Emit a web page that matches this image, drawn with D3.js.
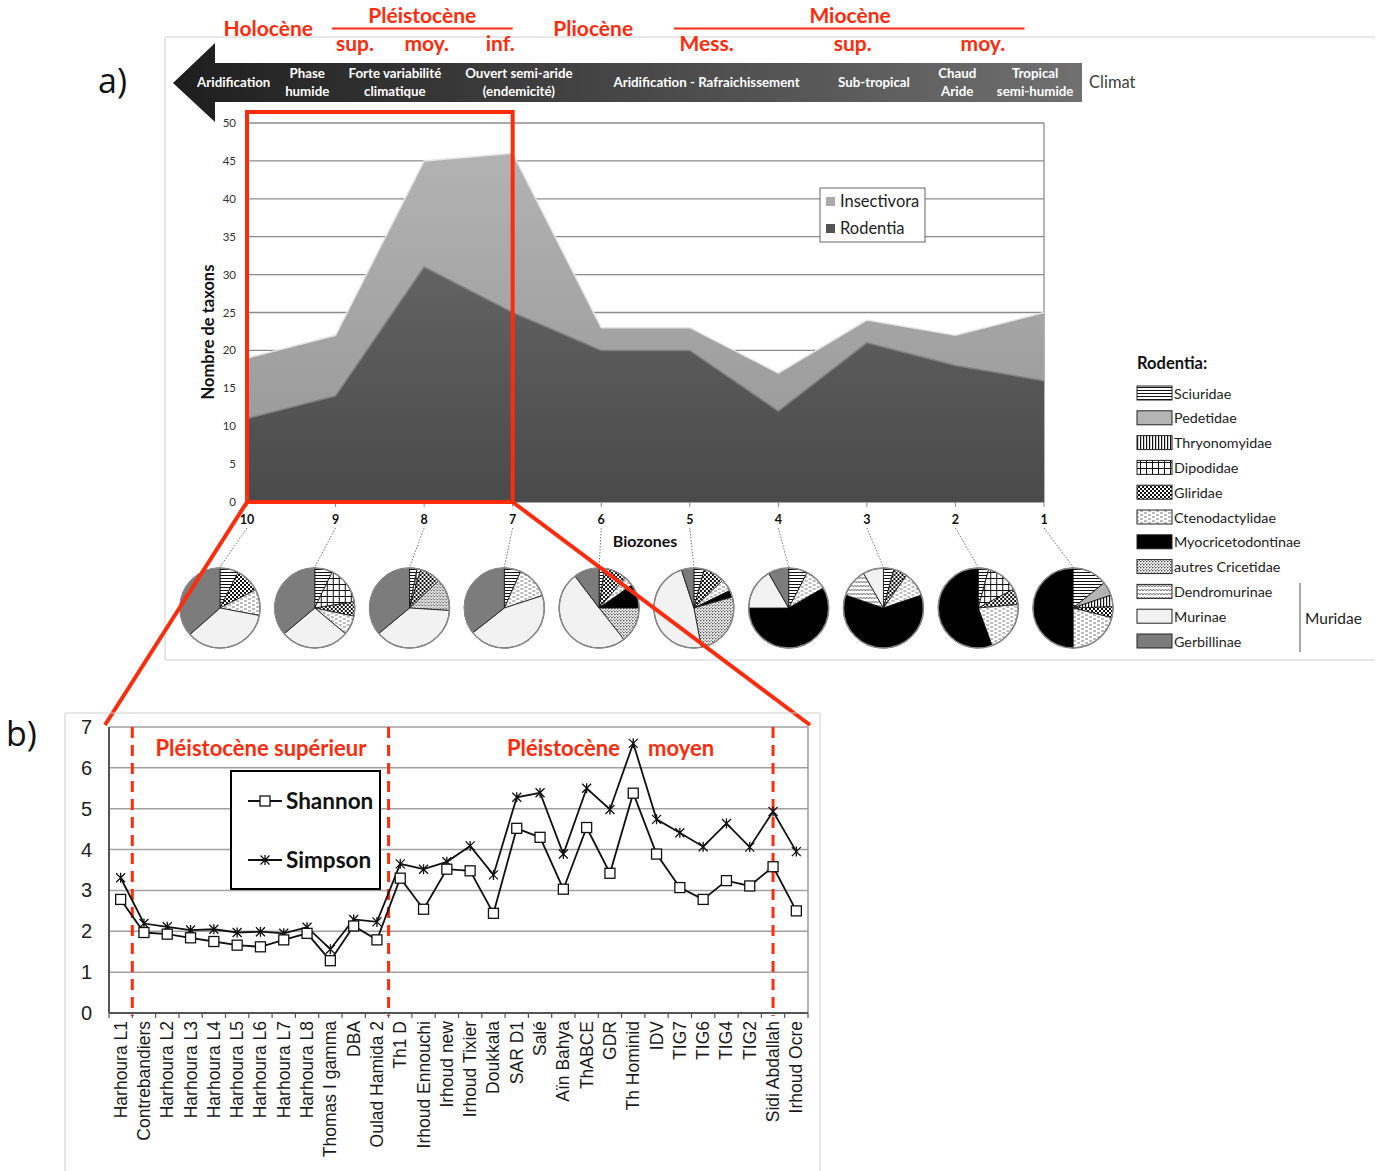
<!DOCTYPE html>
<html>
<head>
<meta charset="utf-8">
<title>Biozones - diversité</title>
<script src="https://d3js.org/d3.v7.min.js"></script>
<style>
  body { margin: 0; background: #fff; }
  text { font-family: Lato, "Open Sans", sans-serif; }
  .arial { font-family: "Liberation Sans", Arial, sans-serif; }
</style>
</head>
<body>
<div id="chart"></div>
<script>
// ---- données panneau a) ----
var biozones = [10, 9, 8, 7, 6, 5, 4, 3, 2, 1];
var rodentia = [11, 14, 31, 25, 20, 20, 12, 21, 18, 16];
var insectivora = [8, 8, 14, 21, 3, 3, 5, 3, 4, 9];
var yTicksA = [0, 5, 10, 15, 20, 25, 30, 35, 40, 45, 50];

var families = ["Sciuridae", "Pedetidae", "Thryonomyidae", "Dipodidae", "Gliridae",
  "Ctenodactylidae", "Myocricetodontinae", "autres Cricetidae", "Dendromurinae",
  "Murinae", "Gerbillinae"];
// parts (%) par biozone, dans l'ordre des familles
var pieShares = [
  [7.5, 0, 0, 0, 10, 10.5, 0, 0, 0, 35.5, 36.5],
  [7.2, 0, 0, 15.3, 5.8, 7.8, 0, 0, 0, 27.8, 36.1],
  [3, 0, 0, 1.5, 8.5, 0, 0, 13, 0, 38, 36],
  [6.7, 0, 0, 0, 0, 13.3, 0, 0, 0, 44.4, 35.6],
  [2.2, 0, 0, 0, 9.2, 3.9, 9.7, 14.4, 0, 50.3, 10.3],
  [4.2, 0, 0, 0, 8.6, 5, 2.8, 26.4, 0, 48, 5],
  [7.7, 0, 0, 0, 0, 9, 58.3, 0, 0, 16.7, 8.3],
  [4.2, 0, 0, 0, 5.6, 10, 60.5, 0, 11.4, 8.3, 0],
  [4.2, 0, 0, 13, 6.4, 20.8, 55.6, 0, 0, 0, 0],
  [14.2, 5.6, 4.7, 0, 4.4, 21.1, 50, 0, 0, 0, 0]
];

var climateLabels = [["Aridification"], ["Phase", "humide"], ["Forte variabilité", "climatique"],
  ["Ouvert semi-aride", "(endemicité)"], ["Aridification - Rafraichissement"], ["Sub-tropical"],
  ["Chaud", "Aride"], ["Tropical", "semi-humide"]];
var climateAt = [10.15, 9.32, 8.33, 6.93, 4.81, 2.92, 1.98, 1.10];

var epochLabels = ["Holocène", "Pléistocène", "Pliocène", "Miocène"];
var epochAt = [9.76, 8.02, 6.09, 3.19];
var epochSpans = [[9.04, 7.0], [5.18, 1.22]];
var subEpochLabels = ["sup.", "moy.", "inf.", "Mess.", "sup.", "moy."];
var subEpochAt = [8.78, 7.97, 7.14, 4.81, 3.16, 1.69];

// ---- données panneau b) ----
var sites = ["Harhoura L1", "Contrebandiers", "Harhoura L2", "Harhoura L3", "Harhoura L4",
  "Harhoura L5", "Harhoura L6", "Harhoura L7", "Harhoura L8", "Thomas I gamma", "DBA",
  "Oulad Hamida 2", "Th1 D", "Irhoud Ennouchi", "Irhoud new", "Irhoud Tixier", "Doukkala",
  "SAR D1", "Salé", "Aïn Bahya", "ThABCE", "GDR", "Th Hominid", "IDV", "TIG7", "TIG6",
  "TIG4", "TIG2", "Sidi Abdallah", "Irhoud Ocre"];
var shannon = [2.78, 1.97, 1.93, 1.84, 1.75, 1.66, 1.62, 1.79, 1.95, 1.28, 2.13, 1.79,
  3.30, 2.54, 3.52, 3.48, 2.44, 4.52, 4.30, 3.03, 4.54, 3.42, 5.38, 3.89, 3.07, 2.78,
  3.24, 3.11, 3.58, 2.50];
var simpson = [3.31, 2.19, 2.11, 2.03, 2.05, 1.97, 1.99, 1.95, 2.10, 1.56, 2.29, 2.23,
  3.65, 3.52, 3.70, 4.09, 3.38, 5.28, 5.39, 3.89, 5.50, 4.98, 6.60, 4.74, 4.41, 4.07,
  4.64, 4.06, 4.93, 3.95];
var yTicksB = [0, 1, 2, 3, 4, 5, 6, 7];

var RED = "#fc2c0c";

var svg = d3.select("#chart").append("svg")
  .attr("width", 1386).attr("height", 1171);

// ---- motifs ----
var defs = svg.append("defs");
function pat(id, w, h, draw) {
  var p = defs.append("pattern").attr("id", id).attr("patternUnits", "userSpaceOnUse")
    .attr("width", w).attr("height", h);
  p.append("rect").attr("width", w).attr("height", h).attr("fill", "#fff");
  draw(p);
}
pat("hl", 4, 3, function(p) { p.append("rect").attr("y", 0).attr("width", 4).attr("height", 1).attr("fill", "#111"); });
pat("vl", 3, 4, function(p) { p.append("rect").attr("x", 0).attr("width", 1.2).attr("height", 4).attr("fill", "#111"); });
pat("grid", 6, 6, function(p) {
  p.append("rect").attr("width", 6).attr("height", 1).attr("fill", "#111");
  p.append("rect").attr("width", 1).attr("height", 6).attr("fill", "#111");
});
pat("chk", 4, 4, function(p) {
  p.append("rect").attr("width", 2).attr("height", 2).attr("fill", "#111");
  p.append("rect").attr("x", 2).attr("y", 2).attr("width", 2).attr("height", 2).attr("fill", "#111");
});
pat("dash", 8, 4, function(p) {
  p.append("rect").attr("x", 0).attr("y", 0.5).attr("width", 3).attr("height", 1).attr("fill", "#777");
  p.append("rect").attr("x", 4).attr("y", 2.5).attr("width", 3).attr("height", 1).attr("fill", "#777");
});
pat("dots", 3, 3, function(p) {
  p.append("circle").attr("cx", 0.8).attr("cy", 0.8).attr("r", 0.8).attr("fill", "#222");
  p.append("circle").attr("cx", 2.3).attr("cy", 2.3).attr("r", 0.6).attr("fill", "#444");
});
pat("wave", 6, 4, function(p) {
  p.append("path").attr("d", "M0,3 L1.5,1 L3,3 L4.5,1 L6,3").attr("fill", "none")
    .attr("stroke", "#555").attr("stroke-width", 0.8);
});
var familyFills = ["url(#hl)", "#b4b4b4", "url(#vl)", "url(#grid)", "url(#chk)", "url(#dash)",
  "#000", "url(#dots)", "url(#wave)", "#f2f2f2", "#7c7c7c"];

var gIns = defs.append("linearGradient").attr("id", "gIns").attr("gradientUnits", "userSpaceOnUse")
  .attr("x1", 0).attr("y1", 123).attr("x2", 0).attr("y2", 502);
gIns.append("stop").attr("offset", 0).attr("stop-color", "#b5b5b5");
gIns.append("stop").attr("offset", 1).attr("stop-color", "#959595");
var gRod = defs.append("linearGradient").attr("id", "gRod").attr("gradientUnits", "userSpaceOnUse")
  .attr("x1", 0).attr("y1", 250).attr("x2", 0).attr("y2", 502);
gRod.append("stop").attr("offset", 0).attr("stop-color", "#646464");
gRod.append("stop").attr("offset", 1).attr("stop-color", "#4a4a4a");
var gBan = defs.append("linearGradient").attr("id", "gBan").attr("gradientUnits", "userSpaceOnUse")
  .attr("x1", 173).attr("y1", 0).attr("x2", 1082).attr("y2", 0);
gBan.append("stop").attr("offset", 0).attr("stop-color", "#1e1e1e");
gBan.append("stop").attr("offset", 1).attr("stop-color", "#707070");

// ================= panneau a) =================
var xA = d3.scaleLinear().domain([10, 1]).range([247, 1044]);
var yA = d3.scaleLinear().domain([0, 50]).range([502, 123]);

// cadre du panneau
svg.append("path").attr("d", "M1375,37 H165 V660 H1375").attr("fill", "none")
  .attr("stroke", "#cfcfcf").attr("stroke-width", 1);

svg.append("text").attr("x", 98).attr("y", 93).attr("font-size", 34).attr("fill", "#111")
  .style("font-family", "'Open Sans', sans-serif").text("a)");

// flèche climat
svg.append("path").attr("d", "M173,83 L215,43 L215,63 L1082,63 L1082,102 L215,102 L215,122 Z")
  .attr("fill", "url(#gBan)");
climateLabels.forEach(function(lines, i) {
  var t = svg.append("text").attr("x", xA(climateAt[i])).attr("text-anchor", "middle")
    .attr("font-size", 13.3).attr("font-weight", "bold").attr("fill", "#fff");
  var y0 = lines.length === 1 ? 87 : 78;
  lines.forEach(function(l, j) {
    t.append("tspan").attr("x", xA(climateAt[i])).attr("y", y0 + j * 18).text(l);
  });
});
svg.append("text").attr("x", 1089).attr("y", 88).attr("font-size", 16.5).attr("fill", "#404040")
  .text("Climat");

// étages
epochLabels.forEach(function(l, i) {
  var y = (l === "Pléistocène" || l === "Miocène") ? 23 : 36;
  svg.append("text").attr("x", xA(epochAt[i])).attr("y", y).attr("text-anchor", "middle")
    .attr("font-size", 21).attr("font-weight", "bold").attr("fill", RED).text(l);
});
epochSpans.forEach(function(s) {
  svg.append("line").attr("x1", xA(s[0])).attr("x2", xA(s[1])).attr("y1", 28.5).attr("y2", 28.5)
    .attr("stroke", RED).attr("stroke-width", 2);
});
subEpochLabels.forEach(function(l, i) {
  svg.append("text").attr("x", xA(subEpochAt[i])).attr("y", 51).attr("text-anchor", "middle")
    .attr("font-size", 21).attr("font-weight", "bold").attr("fill", RED).text(l);
});

// grille
var gA = svg.append("g");
gA.selectAll(".grid").data(yTicksA).enter().append("line")
  .attr("x1", 247).attr("x2", xA(1)).attr("y1", function(d) { return yA(d); })
  .attr("y2", function(d) { return yA(d); }).attr("stroke", "#8c8c8c").attr("stroke-width", 1.3);
gA.append("line").attr("x1", xA(1)).attr("x2", xA(1)).attr("y1", yA(50)).attr("y2", yA(0))
  .attr("stroke", "#8c8c8c").attr("stroke-width", 1.3);

// aires empilées
var rows = biozones.map(function(b, i) { return { b: b, rod: rodentia[i], ins: insectivora[i] }; });
var stacked = d3.stack().keys(["rod", "ins"])(rows);
var area = d3.area().x(function(d) { return xA(d.data.b); })
  .y0(function(d) { return yA(d[0]); }).y1(function(d) { return yA(d[1]); });
var topLine = d3.line().x(function(d) { return xA(d.data.b); }).y(function(d) { return yA(d[1]); });
gA.append("path").attr("d", area(stacked[1])).attr("fill", "url(#gIns)");
gA.append("path").attr("d", topLine(stacked[1])).attr("fill", "none").attr("stroke", "#e4e4e4").attr("stroke-width", 1.5);
gA.append("path").attr("d", area(stacked[0])).attr("fill", "url(#gRod)");
gA.append("path").attr("d", topLine(stacked[0])).attr("fill", "none").attr("stroke", "#808080").attr("stroke-width", 1.5);

// axes
gA.selectAll(".yl").data(yTicksA).enter().append("text")
  .attr("x", 236).attr("y", function(d) { return yA(d) + 4; }).attr("text-anchor", "end")
  .attr("font-size", 11.5).attr("fill", "#333").text(function(d) { return d; });
gA.selectAll(".xt").data(biozones).enter().append("line")
  .attr("x1", function(d) { return xA(d); }).attr("x2", function(d) { return xA(d); })
  .attr("y1", 502).attr("y2", 507).attr("stroke", "#888");
gA.selectAll(".xl").data(biozones).enter().append("text")
  .attr("x", function(d) { return xA(d); }).attr("y", 524).attr("text-anchor", "middle")
  .attr("font-size", 12.5).attr("font-weight", "bold").attr("fill", "#111").text(function(d) { return d; });
svg.append("text").attr("transform", "translate(214,332) rotate(-90)").attr("text-anchor", "middle")
  .attr("font-size", 16.5).attr("font-weight", "bold").attr("fill", "#111").text("Nombre de taxons");
svg.append("text").attr("x", 645).attr("y", 547).attr("text-anchor", "middle")
  .attr("font-size", 16).attr("font-weight", "bold").attr("fill", "#111").text("Biozones");

// légende aires
var lg = svg.append("g");
lg.append("rect").attr("x", 820).attr("y", 188).attr("width", 105).attr("height", 54)
  .attr("fill", "#fff").attr("stroke", "#666");
[["Insectivora", "#aaa"], ["Rodentia", "#555"]].forEach(function(d, i) {
  lg.append("rect").attr("x", 826).attr("y", 197 + i * 27).attr("width", 9).attr("height", 9).attr("fill", d[1]);
  lg.append("text").attr("x", 840).attr("y", 207 + i * 27).attr("font-size", 16.5).attr("fill", "#222").text(d[0]);
});

// camemberts
var xPie = d3.scalePoint().domain(biozones).range([220, 1073]);
var pie = d3.pie().sort(null).value(function(d) { return d; });
var arc = d3.arc().innerRadius(0).outerRadius(40);
biozones.forEach(function(b, i) {
  var cx = xPie(b), cy = 608;
  svg.append("line").attr("x1", xA(b)).attr("y1", 528).attr("x2", cx).attr("y2", 567)
    .attr("stroke", "#555").attr("stroke-width", 0.8).attr("stroke-dasharray", "1.5,1.5");
  var g = svg.append("g").attr("transform", "translate(" + cx + "," + cy + ")");
  g.selectAll("path").data(pie(pieShares[i]).filter(function(d) { return d.value > 0; }))
    .enter().append("path").attr("d", arc)
    .attr("fill", function(d) { return familyFills[d.index]; })
    .attr("stroke", "#111").attr("stroke-width", 0.8);
  g.append("circle").attr("r", 40).attr("fill", "none").attr("stroke", "#888").attr("stroke-width", 1.5);
});

// cadre rouge de zoom
svg.append("rect").attr("x", xA(10)).attr("y", 112).attr("width", xA(7) - xA(10)).attr("height", 502 - 112)
  .attr("fill", "none").attr("stroke", RED).attr("stroke-width", 4);
svg.append("line").attr("x1", xA(10)).attr("y1", 502).attr("x2", 105).attr("y2", 725)
  .attr("stroke", RED).attr("stroke-width", 4);
svg.append("line").attr("x1", xA(7)).attr("y1", 502).attr("x2", 810).attr("y2", 725)
  .attr("stroke", RED).attr("stroke-width", 4);

// légende familles
var lf = svg.append("g");
lf.append("text").attr("x", 1137).attr("y", 369).attr("font-size", 16.5).attr("font-weight", "bold")
  .attr("fill", "#111").text("Rodentia:");
families.forEach(function(f, i) {
  var y = 393 + i * 24.8;
  lf.append("rect").attr("x", 1137).attr("y", y - 7).attr("width", 35).attr("height", 14)
    .attr("fill", familyFills[i]).attr("stroke", "#222").attr("stroke-width", 1);
  lf.append("text").attr("x", 1174).attr("y", y + 5.5).attr("font-size", 14.3).attr("fill", "#222").text(f);
});
lf.append("line").attr("x1", 1300).attr("x2", 1300).attr("y1", 583).attr("y2", 652)
  .attr("stroke", "#555").attr("stroke-width", 1);
lf.append("text").attr("x", 1305).attr("y", 624).attr("font-size", 15.5).attr("fill", "#222").text("Muridae");

// ================= panneau b) =================
var xB = d3.scaleBand().domain(sites).range([109, 808]);
var yB = d3.scaleLinear().domain([0, 7]).range([1013, 727]);
var bw = xB.bandwidth();
function cx(s) { return xB(s) + bw / 2; }

svg.append("path").attr("d", "M65,1171 V713 H820 V1171").attr("fill", "none")
  .attr("stroke", "#cfcfcf").attr("stroke-width", 1);
svg.append("text").attr("x", 6).attr("y", 746).attr("font-size", 34).attr("fill", "#111")
  .style("font-family", "'Open Sans', sans-serif").text("b)");

var gB = svg.append("g");
gB.selectAll(".gb").data(yTicksB.slice(1)).enter().append("line")
  .attr("x1", 109).attr("x2", 808).attr("y1", function(d) { return yB(d); })
  .attr("y2", function(d) { return yB(d); }).attr("stroke", "#a0a0a0").attr("stroke-width", 1.5);
gB.append("line").attr("x1", 808).attr("x2", 808).attr("y1", yB(7)).attr("y2", yB(0))
  .attr("stroke", "#999").attr("stroke-width", 1.5);
gB.append("line").attr("x1", 109).attr("x2", 109).attr("y1", yB(7)).attr("y2", yB(0))
  .attr("stroke", "#555").attr("stroke-width", 2);
gB.append("line").attr("x1", 109).attr("x2", 808).attr("y1", yB(0)).attr("y2", yB(0))
  .attr("stroke", "#555").attr("stroke-width", 2);
gB.selectAll(".tk").data(sites.concat([null])).enter().append("line")
  .attr("x1", function(d, i) { return 109 + i * bw; }).attr("x2", function(d, i) { return 109 + i * bw; })
  .attr("y1", yB(0)).attr("y2", yB(0) + 5).attr("stroke", "#555").attr("stroke-width", 1.2);
gB.selectAll(".yb").data(yTicksB).enter().append("text").attr("class", "arial")
  .attr("x", 92).attr("y", function(d) { return yB(d) + 7; }).attr("text-anchor", "end")
  .attr("font-size", 20).attr("fill", "#222").text(function(d) { return d; });
gB.selectAll(".xb").data(sites).enter().append("text").attr("class", "arial")
  .attr("transform", function(d) { return "translate(" + (cx(d) + 6) + ",1021) rotate(-90)"; })
  .attr("text-anchor", "end").attr("font-size", 17.5).attr("fill", "#1a1a1a").text(function(d) { return d; });

// limites des périodes
[xB("Contrebandiers"), xB("Th1 D"), cx("Sidi Abdallah")].forEach(function(x) {
  gB.append("line").attr("x1", x).attr("x2", x).attr("y1", yB(7)).attr("y2", yB(0) + 3)
    .attr("stroke", RED).attr("stroke-width", 3).attr("stroke-dasharray", "11,7");
});
gB.append("text").attr("x", 261).attr("y", 756).attr("text-anchor", "middle").attr("font-size", 22)
  .attr("font-weight", "bold").attr("fill", RED).text("Pléistocène supérieur");
gB.append("text").attr("x", 620).attr("y", 756).attr("text-anchor", "end").attr("font-size", 22)
  .attr("font-weight", "bold").attr("fill", RED).text("Pléistocène");
gB.append("text").attr("x", 648).attr("y", 756).attr("font-size", 22)
  .attr("font-weight", "bold").attr("fill", RED).text("moyen");

var lineB = d3.line().x(function(d) { return cx(d.s); }).y(function(d) { return yB(d.v); });
var shData = sites.map(function(s, i) { return { s: s, v: shannon[i] }; });
var siData = sites.map(function(s, i) { return { s: s, v: simpson[i] }; });
var starPath = "M-4.5,-4.5L4.5,4.5M-4.5,4.5L4.5,-4.5M0,-5L0,5";

gB.append("path").attr("d", lineB(siData)).attr("fill", "none").attr("stroke", "#111").attr("stroke-width", 1.8);
gB.selectAll(".si").data(siData).enter().append("path")
  .attr("transform", function(d) { return "translate(" + cx(d.s) + "," + yB(d.v) + ")"; })
  .attr("d", starPath).attr("stroke", "#111").attr("stroke-width", 1.3).attr("fill", "none");
gB.append("path").attr("d", lineB(shData)).attr("fill", "none").attr("stroke", "#111").attr("stroke-width", 1.8);
gB.selectAll(".sh").data(shData).enter().append("rect")
  .attr("x", function(d) { return cx(d.s) - 5; }).attr("y", function(d) { return yB(d.v) - 5; })
  .attr("width", 10).attr("height", 10).attr("fill", "#fff").attr("stroke", "#111").attr("stroke-width", 1.3);

// légende b)
var lb = gB.append("g");
lb.append("rect").attr("x", 231).attr("y", 771).attr("width", 149).attr("height", 118)
  .attr("fill", "#fff").attr("stroke", "#000").attr("stroke-width", 2);
lb.append("line").attr("x1", 248).attr("x2", 282).attr("y1", 801).attr("y2", 801).attr("stroke", "#111").attr("stroke-width", 1.8);
lb.append("rect").attr("x", 260).attr("y", 796).attr("width", 10).attr("height", 10)
  .attr("fill", "#fff").attr("stroke", "#111").attr("stroke-width", 1.3);
lb.append("text").attr("x", 286).attr("y", 809).attr("font-size", 22.5).attr("font-weight", "bold")
  .attr("fill", "#111").text("Shannon");
lb.append("line").attr("x1", 248).attr("x2", 282).attr("y1", 860).attr("y2", 860).attr("stroke", "#111").attr("stroke-width", 1.8);
lb.append("path").attr("transform", "translate(265,860)").attr("d", starPath)
  .attr("stroke", "#111").attr("stroke-width", 1.3).attr("fill", "none");
lb.append("text").attr("x", 286).attr("y", 868).attr("font-size", 22.5).attr("font-weight", "bold")
  .attr("fill", "#111").text("Simpson");
</script>
</body>
</html>
